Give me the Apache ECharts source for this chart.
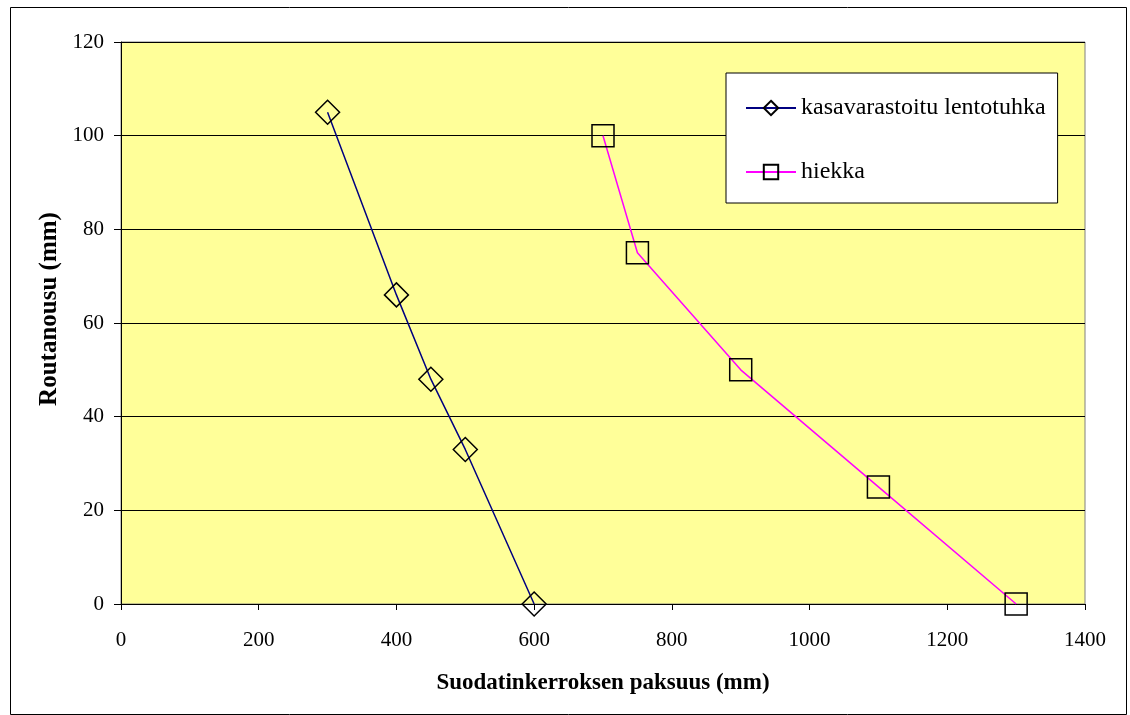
<!DOCTYPE html>
<html><head><meta charset="utf-8">
<script src="https://cdn.jsdelivr.net/npm/echarts@6/dist/echarts.min.js"></script>
<style>html,body{margin:0;padding:0;background:#fff;}#c{width:1130px;height:715px;}</style>
</head><body><div id="c"></div>
<script>
const seriesNames = ['kasavarastoitu lentotuhka', 'hiekka'];
const ashX = [300, 400, 450, 500, 600];
const ashY = [105, 66, 48, 33, 0];
const sandX = [700, 750, 900, 1100, 1300];
const sandY = [100, 75, 50, 25, 0];
const xTitle = 'Suodatinkerroksen paksuus (mm)';
const yTitle = 'Routanousu (mm)';

const font = '"Liberation Serif", "Times New Roman", serif';
const chart = echarts.init(document.getElementById('c'));
chart.setOption({
  animation: false,
  backgroundColor: '#fff',
  textStyle: { fontFamily: font },
  graphic: [{
    type: 'rect', left: 8, top: 5, shape: { width: 1116, height: 707 },
    style: { fill: 'none', stroke: '#000', lineWidth: 1 }, silent: true, z: -1
  }, {
    type: 'text', x: 50, y: 309, rotation: Math.PI / 2,
    style: { text: yTitle, font: 'bold 25px ' + font, fill: '#000', align: 'center', verticalAlign: 'middle' },
    silent: true
  }],
  grid: { left: 121, right: 45, top: 42, bottom: 111, show: true, backgroundColor: '#FFFF99', borderColor: '#808080', borderWidth: 1 },
  legend: {
    left: 726, top: 73, orient: 'vertical', itemGap: 40,
    padding: [23, 12, 19, 19],
    backgroundColor: '#fff', borderColor: '#000', borderWidth: 1,
    itemWidth: 50, itemHeight: 18,
    textStyle: { fontFamily: font, fontSize: 24, lineHeight: 24, color: '#000' },
    data: seriesNames.map(n => ({ name: n }))
  },
  xAxis: {
    type: 'value', min: 0, max: 1400, interval: 200,
    name: xTitle, nameLocation: 'middle', nameGap: 68,
    nameTextStyle: { fontFamily: font, fontSize: 23, fontWeight: 'bold', color: '#000' },
    axisLine: { onZero: false, lineStyle: { color: '#000', width: 1 } },
    axisTick: { show: true, length: 6, lineStyle: { color: '#000' } },
    axisLabel: { fontFamily: font, fontSize: 21, color: '#000', margin: 26, formatter: v => String(v) },
    splitLine: { show: false }
  },
  yAxis: {
    type: 'value', min: 0, max: 120, interval: 20,
    axisLine: { show: true, onZero: false, lineStyle: { color: '#000', width: 1 } },
    axisTick: { show: true, length: 7, lineStyle: { color: '#000' } },
    axisLabel: { fontFamily: font, fontSize: 21, color: '#000', margin: 17, formatter: v => String(v) },
    splitLine: { show: true, lineStyle: { color: '#000', width: 1 } }
  },
  series: [
    {
      name: seriesNames[0], type: 'line',
      data: ashX.map((x, i) => [x, ashY[i]]),
      symbol: 'diamond', symbolSize: 24,
      lineStyle: { color: '#000080', width: 1.5 },
      itemStyle: { color: 'rgba(0,0,0,0)', borderColor: '#000', borderWidth: 1.5 },
      z: 3
    },
    {
      name: seriesNames[1], type: 'line',
      data: sandX.map((x, i) => [x, sandY[i]]),
      symbol: 'rect', symbolSize: 22,
      lineStyle: { color: '#FF00FF', width: 1.5 },
      itemStyle: { color: 'rgba(0,0,0,0)', borderColor: '#000', borderWidth: 1.5 },
      z: 3
    }
  ]
});
</script></body></html>
